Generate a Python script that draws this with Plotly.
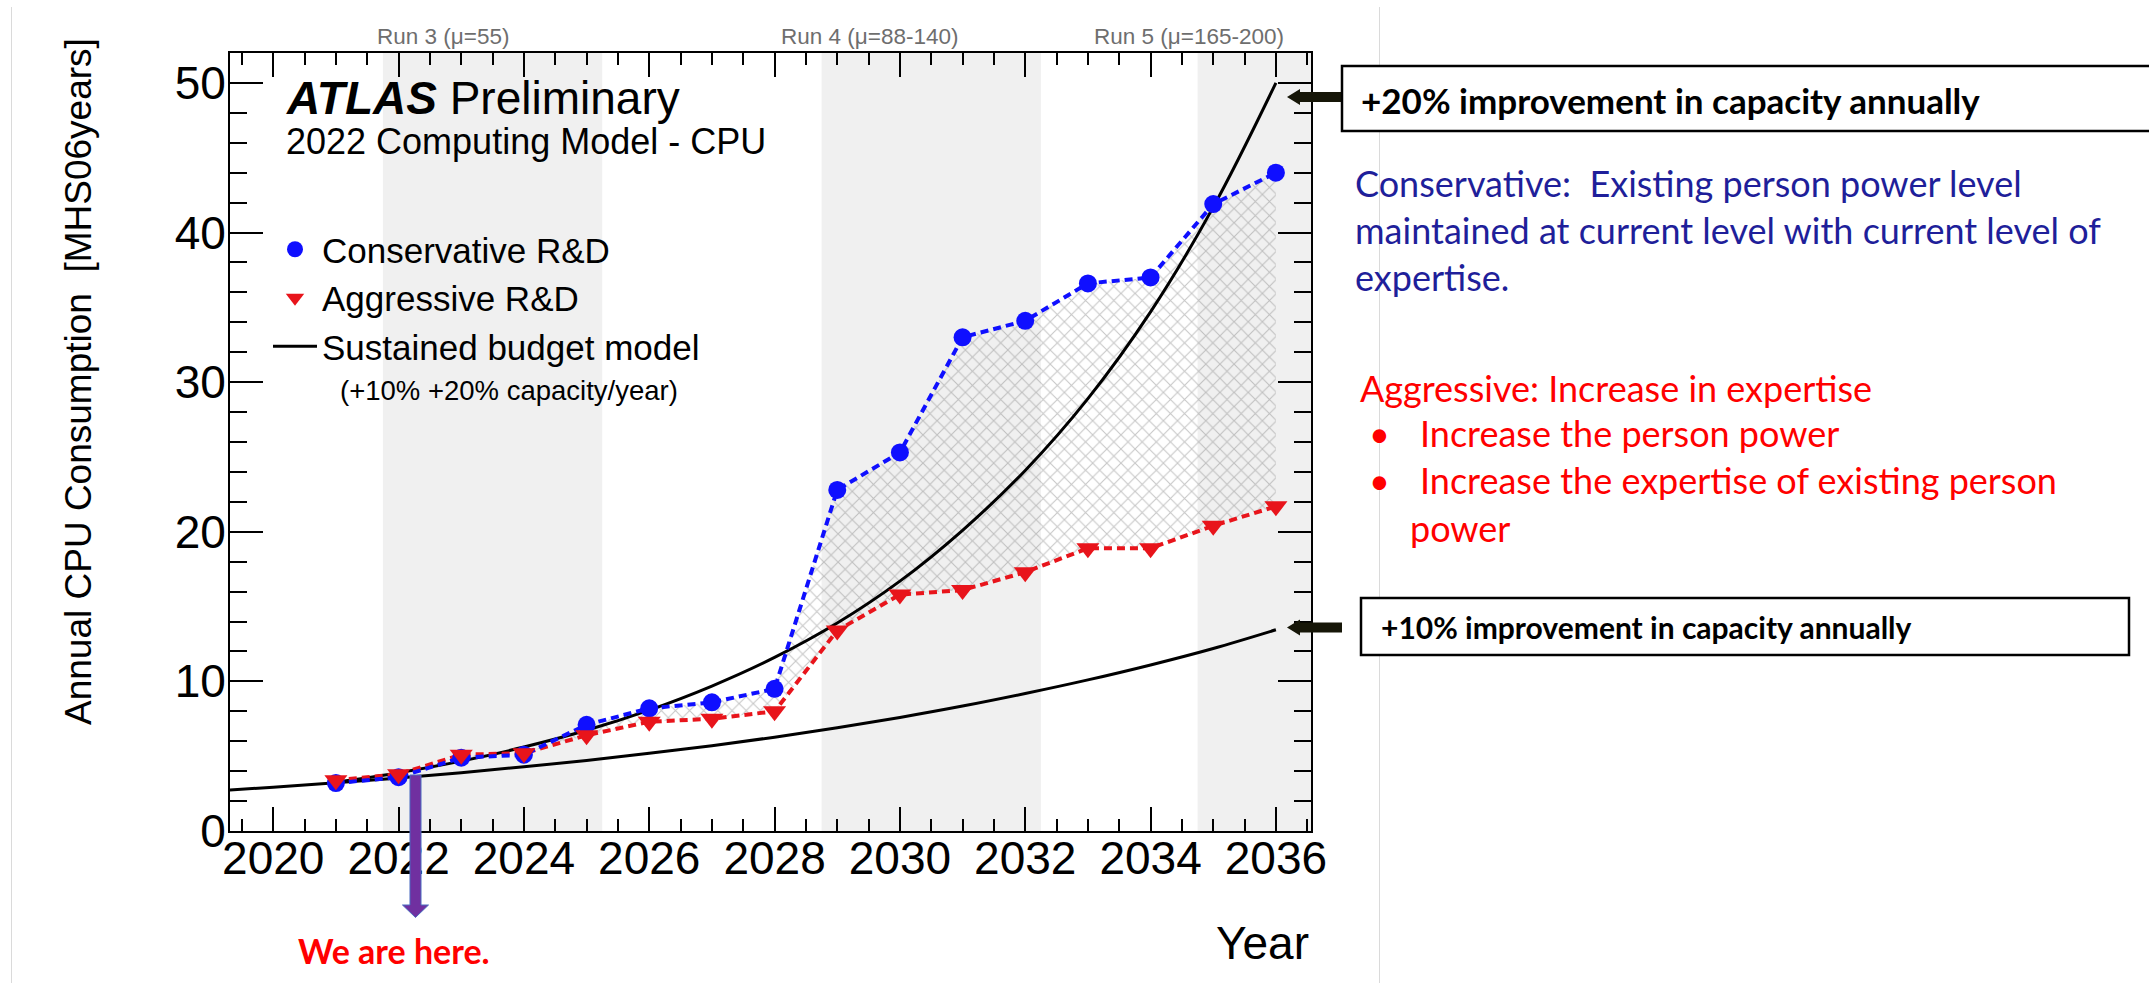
import plotly.graph_objects as go

# ---------------- data ----------------
years = [2021, 2022, 2023, 2024, 2025, 2026, 2027, 2028,
         2029, 2030, 2031, 2032, 2033, 2034, 2035, 2036]
conservative = [3.2, 3.6, 4.9, 5.1, 7.1, 8.2, 8.6, 9.5,
                22.8, 25.3, 33.0, 34.1, 36.6, 37.0, 41.9, 44.0]
aggressive = [3.4, 3.8, 5.1, 5.2, 6.4, 7.3, 7.5, 8.0,
              13.4, 15.8, 16.1, 17.3, 18.9, 18.9, 20.4, 21.7]

# sustained budget model curves (+20 % and +10 % capacity per year)
budget20_years = [2021, 2022, 2023, 2024, 2025, 2026, 2027, 2028,
                  2029, 2030, 2031, 2032, 2033, 2034, 2035, 2036]
budget20 = [3.25, 3.89, 4.67, 5.61, 6.73, 8.08, 9.69, 11.6,
            13.9, 16.7, 20.1, 24.1, 28.9, 34.7, 41.7, 50.0]
budget10_years = [2019, 2020, 2021, 2022, 2023, 2024, 2025, 2026, 2027,
                  2028, 2029, 2030, 2031, 2032, 2033, 2034, 2035, 2036]
budget10 = [2.66, 2.93, 3.22, 3.54, 3.90, 4.29, 4.71, 5.19, 5.70,
            6.27, 6.90, 7.59, 8.35, 9.19, 10.1, 11.1, 12.2, 13.45]

# LHC run periods (start, end) and their labels
run_periods = [(2021.75, 2025.25), (2028.75, 2032.25), (2034.75, 2037.5)]
run_labels = ["Run 3 (μ=55)", "Run 4 (μ=88-140)", "Run 5 (μ=165-200)"]
run_label_x = [2022.71, 2029.52, 2034.62]

x_ticks = list(range(2020, 2037, 2))
y_ticks = [0, 10, 20, 30, 40, 50]
x_range = [2019.31, 2036.56]
y_range = [0, 52]

# ---------------- page geometry ----------------
W, H = 2149, 983
L, R, T, B = 230, 1311, 53, 831          # plot frame in page pixels


def px(x):
    return (x - L) / (R - L)


def py(y):
    return (B - y) / (B - T)


ROOT_FONT = "Liberation Sans, Arial, Helvetica, sans-serif"
SLIDE_FONT = "Lato, Open Sans, sans-serif"
BLUE = "#0f0fff"
RED = "#e8141b"

fig = go.Figure()

# hatched band between the two R&D scenarios
fig.add_trace(go.Scatter(x=years, y=aggressive, mode="lines",
                         line=dict(width=0), showlegend=False, hoverinfo="skip"))
fig.add_trace(go.Scatter(x=years, y=conservative, mode="lines",
                         line=dict(width=0), fill="tonexty",
                         fillcolor="rgba(0,0,0,0)",
                         fillpattern=dict(shape="x", size=10, solidity=0.2,
                                          fgcolor="#8e8e8e",
                                          bgcolor="rgba(0,0,0,0)"),
                         showlegend=False, hoverinfo="skip"))

# sustained budget curves
fig.add_trace(go.Scatter(x=budget10_years, y=budget10, mode="lines",
                         line=dict(color="black", width=3, shape="spline"),
                         name="Sustained budget model", legendrank=3))
fig.add_trace(go.Scatter(x=budget20_years, y=budget20, mode="lines",
                         line=dict(color="black", width=3, shape="spline"),
                         showlegend=False))

# dashed connecting lines
fig.add_trace(go.Scatter(x=years, y=aggressive, mode="lines",
                         line=dict(color=RED, width=4, dash="8px,5px"),
                         showlegend=False))
fig.add_trace(go.Scatter(x=years, y=conservative, mode="lines",
                         line=dict(color=BLUE, width=4, dash="8px,5px"),
                         showlegend=False))

# markers
fig.add_trace(go.Scatter(x=years, y=conservative, mode="markers",
                         marker=dict(symbol="circle", size=18, color=BLUE),
                         name="Conservative R&D", legendrank=1))
fig.add_trace(go.Scatter(x=years, y=aggressive, mode="markers",
                         marker=dict(symbol="triangle-down", size=20, color=RED),
                         name="Aggressive R&D", legendrank=2))

shapes = []
for x0, x1 in run_periods:
    shapes.append(dict(type="rect", xref="x", yref="y", x0=x0, x1=x1,
                       y0=y_range[0], y1=y_range[1], fillcolor="#f0f0f0",
                       line=dict(width=0), layer="below"))

# thin frame lines of the embedded figure
for xl in (11.5, 1379.5):
    shapes.append(dict(type="line", xref="paper", yref="paper",
                       x0=px(xl), x1=px(xl), y0=py(7), y1=py(H + 5),
                       line=dict(color="#dadada", width=1)))


def poly(points):
    return "M " + " L ".join(f"{px(a):.5f},{py(b):.5f}" for a, b in points) + " Z"


# black pointer arrows towards the curve ends
for yc in (97, 627.5):
    shapes.append(dict(type="path", xref="paper", yref="paper",
                       path=poly([(1287, yc), (1300, yc - 8), (1300, yc - 5),
                                  (1342, yc - 5), (1342, yc + 5),
                                  (1300, yc + 5), (1300, yc + 8)]),
                       fillcolor="#161608", line=dict(width=0)))

# annotation boxes
shapes.append(dict(type="rect", xref="paper", yref="paper",
                   x0=px(1342), x1=px(2165), y0=py(131), y1=py(66),
                   line=dict(color="black", width=2.5), fillcolor="white"))
shapes.append(dict(type="rect", xref="paper", yref="paper",
                   x0=px(1361), x1=px(2129), y0=py(655), y1=py(598),
                   line=dict(color="black", width=2.5), fillcolor="white"))

# purple "we are here" arrow
shapes.append(dict(type="path", xref="paper", yref="paper",
                   path=poly([(410, 775), (421, 775), (421, 905), (428.5, 905),
                              (415.5, 917.5), (402.5, 905), (410, 905)]),
                   fillcolor="#7030a0", line=dict(color="#4a6cc0", width=1)))

annotations = []
for lbl, lx in zip(run_labels, run_label_x):
    annotations.append(dict(text=lbl, xref="x", yref="paper", x=lx, y=py(36),
                            xanchor="center", yanchor="middle", showarrow=False,
                            font=dict(family=ROOT_FONT, size=22.5, color="#6e6e6e")))

annotations += [
    dict(text="<b><i>ATLAS</i></b> Preliminary", x=px(284), y=py(98),
         xanchor="left", yanchor="middle",
         font=dict(family=ROOT_FONT, size=46, color="black")),
    dict(text="2022 Computing Model - CPU", x=px(284), y=py(142),
         xanchor="left", yanchor="middle",
         font=dict(family=ROOT_FONT, size=36, color="black")),
    dict(text="(+10% +20% capacity/year)", x=px(338), y=py(390),
         xanchor="left", yanchor="middle",
         font=dict(family=ROOT_FONT, size=27.5, color="black")),
    dict(text="Annual CPU Consumption\u00a0\u00a0[MHS06years]", x=px(78), y=py(382),
         xanchor="center", yanchor="middle", textangle=-90,
         font=dict(family=ROOT_FONT, size=37, color="black")),
    dict(text="Year", x=1, y=py(943), xanchor="right", yanchor="middle",
         font=dict(family=ROOT_FONT, size=46, color="black")),
    dict(text="<b>We are here.</b>", x=px(394), y=py(950), xanchor="center",
         yanchor="middle", font=dict(family=SLIDE_FONT, size=34, color="#ff0000")),
    dict(text="<b>+20% improvement in capacity annually</b>", x=px(1359), y=py(100),
         xanchor="left", yanchor="middle",
         font=dict(family=SLIDE_FONT, size=35, color="black")),
    dict(text="<b>+10% improvement in capacity annually</b>", x=px(1379), y=py(627),
         xanchor="left", yanchor="middle",
         font=dict(family=SLIDE_FONT, size=30, color="black")),
]

NAVY = "#1f1f9a"
side_text = [
    ("Conservative:  Existing person power level", 1353, 183, NAVY),
    ("maintained at current level with current level of", 1353, 230, NAVY),
    ("expertise.", 1353, 277, NAVY),
    ("Aggressive: Increase in expertise", 1358, 388, "#ff0000"),
    ("•", 1367, 433, "#ff0000"),
    ("Increase the person power", 1418, 433, "#ff0000"),
    ("•", 1367, 480, "#ff0000"),
    ("Increase the expertise of existing person", 1418, 480, "#ff0000"),
    ("power", 1408, 528, "#ff0000"),
]
for txt, tx, ty, col in side_text:
    annotations.append(dict(text=txt.replace("  ", "\u00a0 "), x=px(tx), y=py(ty),
                            xanchor="left", yanchor="middle",
                            font=dict(family=SLIDE_FONT, size=36, color=col)))

for a in annotations:
    a.setdefault("xref", "paper")
    a.setdefault("yref", "paper")
    a["showarrow"] = False

axis_common = dict(showline=True, linecolor="black", linewidth=2, mirror="ticks",
                   ticks="inside", tickcolor="black", tickwidth=2,
                   showgrid=False, zeroline=False,
                   tickfont=dict(family=ROOT_FONT, size=46, color="black"))

fig.update_layout(
    width=W, height=H,
    margin=dict(l=L, r=W - R, t=T, b=H - B),
    paper_bgcolor="white", plot_bgcolor="white",
    xaxis=dict(range=x_range, tickvals=x_ticks, ticklen=24,
               minor=dict(dtick=0.5, tick0=2020, ticks="inside", ticklen=12,
                          tickcolor="black", tickwidth=2),
               ticklabelstandoff=-14, **axis_common),
    yaxis=dict(range=y_range, tickvals=y_ticks, ticklen=33,
               minor=dict(dtick=2, tick0=0, ticks="inside", ticklen=17,
                          tickcolor="black", tickwidth=2),
               ticklabelstandoff=-7, **axis_common),
    shapes=shapes,
    annotations=annotations,
    legend=dict(x=px(268), y=py(220), xanchor="left", yanchor="top",
                traceorder="normal", itemwidth=44,
                bgcolor="rgba(0,0,0,0)", tracegroupgap=0,
                font=dict(family=ROOT_FONT, size=35, color="black")),
    showlegend=True,
)

fig.write_html("out.html")
